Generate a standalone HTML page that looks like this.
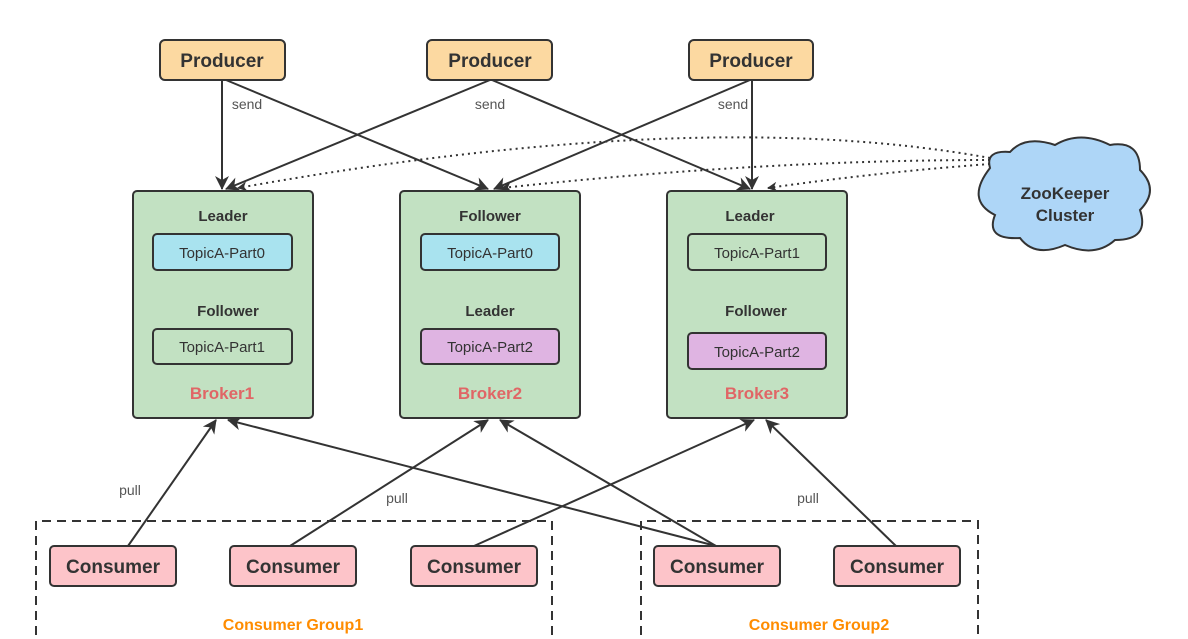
<!DOCTYPE html>
<html><head><meta charset="utf-8"><style>
html,body{margin:0;padding:0;background:#fff;}
svg{display:block;}
.t{font-family:"Comic Sans MS","Liberation Sans",sans-serif;font-weight:bold;fill:#333;text-anchor:middle;}
.s{font-family:"Liberation Sans",sans-serif;font-size:14px;fill:#555;text-anchor:middle;}
.box{stroke:#333;stroke-width:2;}
</style></head><body>
<svg width="1188" height="639" viewBox="0 0 1188 639" xmlns="http://www.w3.org/2000/svg">
<defs><marker id="a" markerWidth="10" markerHeight="10" refX="9" refY="5" orient="auto" markerUnits="userSpaceOnUse" viewBox="0 0 10 10"><path d="M0,0 L10,5 L0,10 L3,5 Z" fill="#333"/></marker>
<marker id="b" markerWidth="14" markerHeight="14" refX="13" refY="7" orient="auto" markerUnits="userSpaceOnUse" viewBox="0 0 14 14"><path d="M0,0 L14,7 L0,14 L4,7 Z" fill="#333"/></marker></defs>

<g fill="none" stroke="#333" stroke-width="2" stroke-dasharray="2,4">
<path d="M990,158 Q700,105 238,188" marker-end="url(#a)"/>
<path d="M990,160 Q760,160 502,188" marker-end="url(#a)"/>
<path d="M990,164 Q880,172 768,188" marker-end="url(#a)"/>
</g>

<g stroke="#333" stroke-width="2" fill="none">
<line x1="222" y1="80" x2="222" y2="189" marker-end="url(#b)"/>
<line x1="226" y1="80" x2="488" y2="189" marker-end="url(#b)"/>
<line x1="490" y1="80" x2="226" y2="189" marker-end="url(#b)"/>
<line x1="492" y1="80" x2="750" y2="189" marker-end="url(#b)"/>
<line x1="750" y1="80" x2="494" y2="189" marker-end="url(#b)"/>
<line x1="752" y1="80" x2="752" y2="189" marker-end="url(#b)"/>
<line x1="128" y1="546" x2="216" y2="420" marker-end="url(#b)"/>
<line x1="716" y1="546" x2="228" y2="420" marker-end="url(#b)"/>
<line x1="290" y1="546" x2="488" y2="420" marker-end="url(#b)"/>
<line x1="716" y1="546" x2="500" y2="420" marker-end="url(#b)"/>
<line x1="474" y1="546" x2="754" y2="420" marker-end="url(#b)"/>
<line x1="896" y1="546" x2="766" y2="420" marker-end="url(#b)"/>
</g>
<text class="s" x="247" y="109">send</text>
<text class="s" x="490" y="109">send</text>
<text class="s" x="733" y="109">send</text>
<text class="s" x="130" y="495">pull</text>
<text class="s" x="397" y="503">pull</text>
<text class="s" x="808" y="503">pull</text>

<g class="box" fill="#fcd9a1">
<rect x="160" y="40" width="125" height="40" rx="5"/>
<rect x="427" y="40" width="125" height="40" rx="5"/>
<rect x="689" y="40" width="124" height="40" rx="5"/>
</g>
<g class="t" font-size="19">
<text x="222" y="67">Producer</text><text x="490" y="67">Producer</text><text x="751" y="67">Producer</text>
</g>

<g class="box" fill="#c2e1c2">
<rect x="133" y="191" width="180" height="227" rx="4"/>
<rect x="400" y="191" width="180" height="227" rx="4"/>
<rect x="667" y="191" width="180" height="227" rx="4"/>
</g>
<g class="box">
<rect x="153" y="234" width="139" height="36" rx="4" fill="#a9e3ef"/>
<rect x="153" y="329" width="139" height="35" rx="4" fill="#c2e1c2"/>
<rect x="421" y="234" width="138" height="36" rx="4" fill="#a9e3ef"/>
<rect x="421" y="329" width="138" height="35" rx="4" fill="#dfb4e2"/>
<rect x="688" y="234" width="138" height="36" rx="4" fill="#c2e1c2"/>
<rect x="688" y="333" width="138" height="36" rx="4" fill="#dfb4e2"/>
</g>
<g class="t" font-size="15">
<text x="223" y="221">Leader</text><text x="228" y="316">Follower</text>
<text x="490" y="221">Follower</text><text x="490" y="316">Leader</text>
<text x="750" y="221">Leader</text><text x="756" y="316">Follower</text>
</g>
<g class="t" font-size="15" style="font-weight:normal">
<text x="222" y="258">TopicA-Part0</text><text x="222" y="352">TopicA-Part1</text>
<text x="490" y="258">TopicA-Part0</text><text x="490" y="352">TopicA-Part2</text>
<text x="757" y="258">TopicA-Part1</text><text x="757" y="357">TopicA-Part2</text>
</g>
<g class="t" font-size="17" style="fill:#e06666">
<text x="222" y="399">Broker1</text><text x="490" y="399">Broker2</text><text x="757" y="399">Broker3</text>
</g>

<path d="M990,168 Q985,150 1010,152 Q1025,135 1055,145 Q1080,130 1110,145 Q1140,140 1140,170 Q1160,190 1140,210 Q1150,240 1115,240 Q1095,258 1065,245 Q1035,258 1020,238 Q985,240 995,215 Q965,200 990,168 Z" fill="#aed6f7" stroke="#333" stroke-width="2"/>
<text class="t" font-size="17" x="1065" y="199">ZooKeeper</text>
<text class="t" font-size="17" x="1065" y="221">Cluster</text>

<g fill="none" stroke="#333" stroke-width="2" stroke-dasharray="9,6">
<path d="M36,650 L36,521 L552,521 L552,650"/>
<path d="M641,650 L641,521 L978,521 L978,650"/>
</g>
<g class="box" fill="#fdc4c9">
<rect x="50" y="546" width="126" height="40" rx="4"/>
<rect x="230" y="546" width="126" height="40" rx="4"/>
<rect x="411" y="546" width="126" height="40" rx="4"/>
<rect x="654" y="546" width="126" height="40" rx="4"/>
<rect x="834" y="546" width="126" height="40" rx="4"/>
</g>
<g class="t" font-size="19">
<text x="113" y="573">Consumer</text><text x="293" y="573">Consumer</text><text x="474" y="573">Consumer</text><text x="717" y="573">Consumer</text><text x="897" y="573">Consumer</text>
</g>
<g class="t" font-size="16" style="fill:#ff8c00">
<text x="293" y="630">Consumer Group1</text>
<text x="819" y="630">Consumer Group2</text>
</g>
</svg>
</body></html>
